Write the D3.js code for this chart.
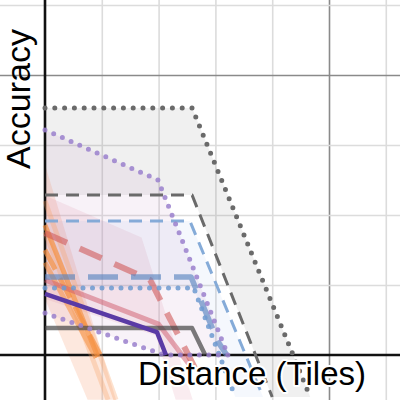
<!DOCTYPE html>
<html><head><meta charset="utf-8">
<script src="https://cdn.jsdelivr.net/npm/d3@7"></script>
<style>body{margin:0;background:#fff}svg{display:block}</style>
</head><body>
<svg id="c" width="400" height="400"></svg>
<script>
// ---- data (x: tiles, y: accuracy) ----
const xTicks = [1, 2, 3, 4, 5, 6];
const xMajor = [5];
const yTicks = [0.25, 0.5, 0.75, 1, 1.25];
const yMajor = [1];

const grayDotted = [[0, 0.882], [2.59, 0.882], [4.67, -0.15]];
const grayDashed = [[0, 0.571], [2.59, 0.571], [4.0, -0.15]];
const graySolid  = [[0, 0.096], [2.59, 0.096], [2.82, 0]];

const blueDashed = [[0, 0.479], [2.55, 0.479], [3.84, -0.15]];
const blueThick  = [[0, 0.279], [2.57, 0.279], [3.05, 0.046], [3.2, 0]];
const blueDotted = [[0, 0.239], [2.62, 0.239], [3.35, -0.15]];

const purpleSolid  = [[0, 0.218], [1.97, 0.082], [2.13, 0]];
const purpleUpper  = [[0, 0.804], [1.99, 0.625], [3.22, 0]];
const purpleLower  = [[0, 0.15], [2.1, 0], [3.25, 0]];

const redDashed = [[0, 0.436], [1.85, 0.268], [2.75, -0.09]];
const redSolid  = [[0, 0.268], [2.0, 0.11], [2.6, -0.05]];
const redUpper  = [[0, 0.57], [1.7, 0.42], [2.6, -0.16]];
const redLower  = [[0, 0.2], [1.95, 0.07], [2.3, -0.16]];

const orangeSolid  = [[0, 0.464], [0.93, -0.007]];
const orangeDashed = [[0, 0.375], [0.97, 0]];
const orangeSolidB = [[0, 0.33], [0.9, -0.01]];
const orangeFaintA = [[0, 0.55], [1.25, -0.16]];
const orangeFaintB = [[0, 0.44], [1.11, -0.16]];
const orangeUpper  = [[0, 0.68], [1.25, -0.16]];
const orangeLower  = [[0, 0.2], [0.75, -0.16]];

// ---- scales ----
const x = d3.scaleLinear().domain([0, 1]).range([45, 101.8]);
const y = d3.scaleLinear().domain([0, 1]).range([355, 75]);
const svg = d3.select("#c");
const line = d3.line().x(d => x(d[0])).y(d => y(d[1]));
const band = (up, lo) => line(up.concat(lo.slice().reverse())) + "Z";

// ---- grid via axes ----
const gx = svg.append("g").attr("transform", "translate(0,400)")
  .call(d3.axisBottom(x).tickValues(xTicks).tickSize(400).tickFormat(""));
gx.select(".domain").remove();
gx.selectAll(".tick line").attr("transform", "translate(0,-400)")
  .attr("stroke", d => xMajor.includes(d) ? "#8a8a8a" : "#dcdcdc").attr("stroke-width", 1.6);
const gy = svg.append("g")
  .call(d3.axisLeft(y).tickValues(yTicks).tickSize(-400).tickFormat(""));
gy.select(".domain").remove();
gy.selectAll(".tick line")
  .attr("stroke", d => yMajor.includes(d) ? "#8a8a8a" : "#dcdcdc").attr("stroke-width", 1.6);

// ---- bands ----
const fills = [
  [grayDotted, grayDashed, "rgba(120,120,120,0.11)"],
  [orangeUpper, orangeLower, "rgba(245,140,90,0.20)"],
  [redUpper, redLower, "rgba(215,110,140,0.13)"],
  [purpleUpper, purpleLower, "rgba(200,150,200,0.12)"],
  [blueDashed, blueDotted, "rgba(110,160,220,0.07)"]
];
fills.forEach(f => svg.append("path").attr("d", band(f[0], f[1])).attr("fill", f[2]));

// ---- axes lines ----
svg.append("line").attr("x1", x(0)).attr("x2", x(0)).attr("y1", 0).attr("y2", 400)
  .attr("stroke", "#111").attr("stroke-width", 2.6);
svg.append("line").attr("x1", 0).attr("x2", 400).attr("y1", y(0)).attr("y2", y(0))
  .attr("stroke", "#111").attr("stroke-width", 2.6);

// ---- lines ----
function draw(data, color, width, dash, opacity) {
  svg.append("path").attr("d", line(data)).attr("fill", "none")
    .attr("stroke", color).attr("stroke-width", width)
    .attr("stroke-dasharray", dash || null)
    .attr("stroke-linecap", dash && dash.startsWith("0") ? "round" : "butt")
    .attr("stroke-linejoin", "round")
    .attr("stroke-opacity", opacity);
}
draw(orangeFaintA, "#f7a060", 5, null, 0.3);
draw(orangeFaintB, "#f7a060", 5, null, 0.3);
draw(orangeSolidB, "#f59040", 5, null, 0.55);
draw(orangeSolid, "#f59040", 5, null, 0.7);
draw(orangeDashed, "#f59040", 5, "22 10", 0.7);
draw(redSolid, "#d05a6a", 5, null, 0.5);
draw(redDashed, "#d05a5a", 6, "24 14", 0.6);
draw(graySolid, "#444", 4.5, null, 0.7);
draw(grayDashed, "#6a6a6a", 3, "13 8", 1);
draw(grayDotted, "#6a6a6a", 5, "0 9.8", 1);
draw(blueThick, "#5a86c0", 5.5, "30 13", 0.65);
draw(blueDotted, "#6d9ad0", 5, "0 9.5", 0.85);
draw(blueDashed, "#7ea6d6", 3, "13 8", 0.95);
draw(purpleLower, "#9a80cc", 5, "0 9.5", 0.85);
draw(purpleUpper, "#9a80cc", 5, "0 9.5", 0.85);
draw(purpleSolid, "#5a3aa5", 4.5, null, 1);

// ---- labels ----
svg.append("text").attr("transform", "translate(30,99) rotate(-90)")
  .attr("text-anchor", "middle").attr("font-family", "Liberation Sans, Arial, sans-serif")
  .attr("font-size", 34).attr("fill", "#000").text("Accuracy");
svg.append("text").attr("x", 252).attr("y", 385)
  .attr("text-anchor", "middle").attr("font-family", "Liberation Sans, Arial, sans-serif")
  .attr("font-size", 33).attr("fill", "#000")
  .attr("stroke", "#fff").attr("stroke-width", 4).attr("paint-order", "stroke")
  .attr("stroke-linejoin", "round").text("Distance (Tiles)");
</script>
</body></html>
